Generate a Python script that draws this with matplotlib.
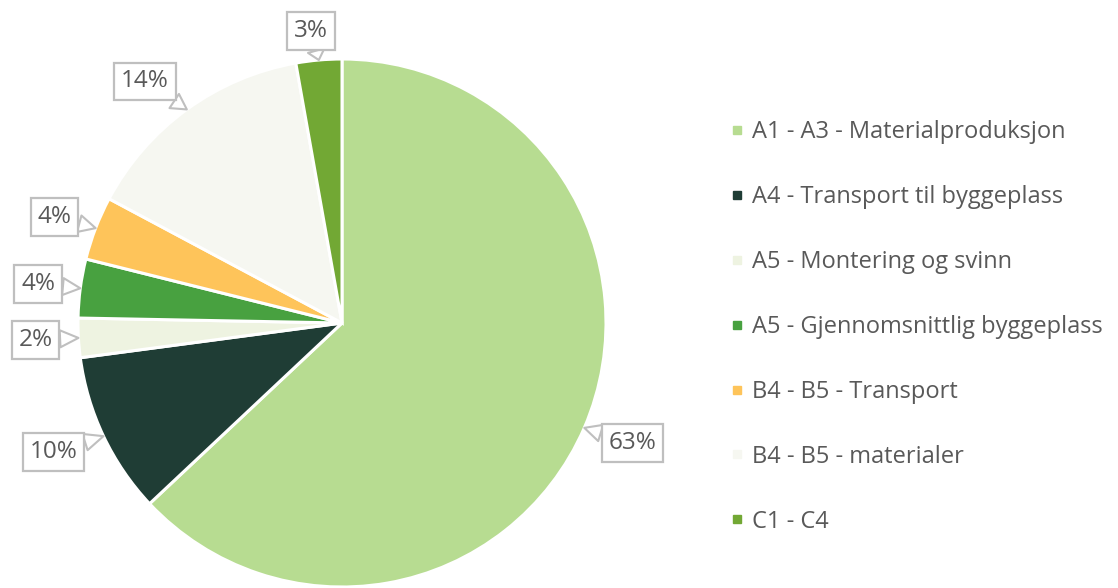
import matplotlib
matplotlib.use("Agg")
import matplotlib.pyplot as plt
from matplotlib.lines import Line2D
import numpy as np

categories = [
    "A1 - A3 - Materialproduksjon",
    "A4 - Transport til byggeplass",
    "A5 - Montering og svinn",
    "A5 - Gjennomsnittlig byggeplass",
    "B4 - B5 - Transport",
    "B4 - B5 - materialer",
    "C1 - C4",
]
values = [63.0, 9.9, 2.4, 3.6, 3.9, 14.4, 2.8]
colors = ["#b7dc91", "#1f3d35", "#eef3e1", "#48a140", "#fec45a", "#f6f7f1", "#72a834"]

# label box offsets (pixels) from the wedge edge at mid-angle (layout only)
label_offsets = [(48, -15), (-50, -16), (-43, -2), (-42, 4), (-41, 11), (-42, 28), (-8, 29)]

plt.rcParams['font.family'] = ['Open Sans', 'DejaVu Sans']
W, H = 1118, 588
fig = plt.figure(figsize=(W / 100, H / 100), dpi=100)
ax = fig.add_axes([0, 0, 1, 1])

cx, cy, R = 342, H - 323, 264
wedges, _ = ax.pie(values, colors=colors, startangle=90, counterclock=False,
                   center=(cx, cy), radius=R,
                   wedgeprops=dict(edgecolor='white', linewidth=2.2))
ax.set_xlim(0, W)
ax.set_ylim(0, H)
ax.set_aspect('equal')
ax.axis('off')

total = sum(values)
for w, v, off in zip(wedges, values, label_offsets):
    ang = np.deg2rad((w.theta1 + w.theta2) / 2)
    ex, ey = cx + R * np.cos(ang), cy + R * np.sin(ang)
    ax.annotate(f"{v / total * 100:.0f}%", xy=(ex, ey), xytext=off,
                textcoords='offset pixels', ha='center', va='center',
                fontsize=17.5, color='#595959',
                bbox=dict(boxstyle='square,pad=0.28', fc='white', ec='#bfbfbf', lw=1.6),
                arrowprops=dict(arrowstyle='wedge,tail_width=0.7,shrink_factor=0.5',
                                fc='white', ec='#bfbfbf', lw=1.5, shrinkA=0, shrinkB=0))

handles = [Line2D([0], [0], marker='s', linestyle='none', markersize=6,
                  markerfacecolor=c, markeredgecolor=c) for c in colors]
fig.legend(handles, categories, loc='center left',
           bbox_to_anchor=(731 / W, 1 - 327 / H), frameon=False,
           fontsize=17, labelcolor='#595959', labelspacing=1.73,
           handlelength=0.55, handletextpad=0.33, borderpad=0, borderaxespad=0)

fig.savefig("out.png", dpi=100)
